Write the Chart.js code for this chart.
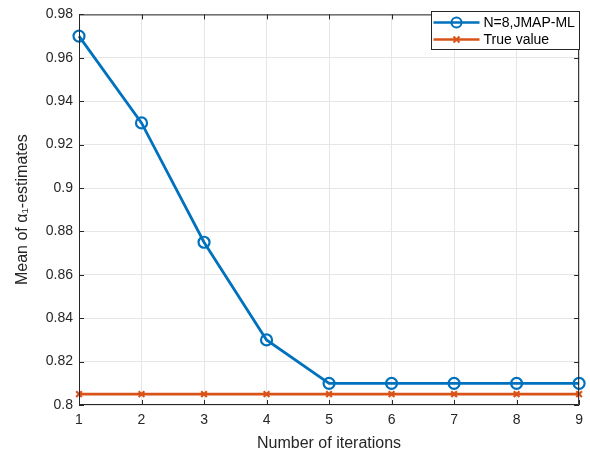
<!DOCTYPE html>
<html>
<head>
<meta charset="utf-8">
<script src="https://cdn.jsdelivr.net/npm/chart.js@4"></script>
<style>
  html, body { margin: 0; padding: 0; background: #fff; }
  #wrap { width: 590px; height: 453px; }
</style>
</head>
<body>
<div id="wrap"><canvas id="chart" width="590" height="453"></canvas></div>
<script>
const iterations = [1, 2, 3, 4, 5, 6, 7, 8, 9];
const jmapMeans = [0.97, 0.93, 0.875, 0.83, 0.81, 0.81, 0.81, 0.81, 0.81];
const trueValue = [0.805, 0.805, 0.805, 0.805, 0.805, 0.805, 0.805, 0.805, 0.805];
const seriesNames = ["N=8,JMAP-ML", "True value"];

const BLUE = "#0072BD";
const ORANGE = "#D95319";
const AXIS = "#262626";
const FONT = "'Liberation Sans', Arial, sans-serif";

// box, inward ticks and legend like matlab
const matlabFrame = {
  id: "matlabFrame",
  afterDraw(chart) {
    const ctx = chart.ctx;
    const a = chart.chartArea;
    const xs = chart.scales.x, ys = chart.scales.y;
    ctx.save();
    ctx.strokeStyle = AXIS;
    ctx.lineWidth = 1;
    ctx.beginPath();
    ctx.rect(a.left + 0.5, a.top + 0.5, a.right - a.left - 1, a.bottom - a.top - 1);
    ctx.stroke();
    const tl = 5;
    ctx.beginPath();
    xs.ticks.forEach((t, i) => {
      const px = Math.round(xs.getPixelForTick(i)) + 0.5;
      ctx.moveTo(px, a.bottom); ctx.lineTo(px, a.bottom - tl);
      ctx.moveTo(px, a.top); ctx.lineTo(px, a.top + tl);
    });
    ys.ticks.forEach(t => {
      const py = Math.round(ys.getPixelForValue(t.value)) + 0.5;
      ctx.moveTo(a.left, py); ctx.lineTo(a.left + tl, py);
      ctx.moveTo(a.right, py); ctx.lineTo(a.right - tl, py);
    });
    ctx.stroke();

    // legend
    const lx = 431.5, ly = 11.5, lw = 148, lh = 38;
    ctx.fillStyle = "#fff";
    ctx.fillRect(lx, ly, lw, lh);
    ctx.strokeStyle = AXIS;
    ctx.strokeRect(lx, ly, lw, lh);
    const rows = [ly + 11, ly + 28];
    chart.data.datasets.forEach((ds, i) => {
      const y = rows[i];
      ctx.strokeStyle = ds.borderColor;
      ctx.lineWidth = 2.5;
      ctx.beginPath();
      ctx.moveTo(lx + 2, y); ctx.lineTo(lx + 48, y);
      ctx.stroke();
      const cx = lx + 25;
      ctx.lineWidth = 2;
      ctx.beginPath();
      if (ds.pointStyle === "circle") {
        ctx.arc(cx, y, 5, 0, Math.PI * 2);
      } else {
        ctx.moveTo(cx - 3, y - 3); ctx.lineTo(cx + 3, y + 3);
        ctx.moveTo(cx + 3, y - 3); ctx.lineTo(cx - 3, y + 3);
      }
      ctx.stroke();
      ctx.fillStyle = "#000";
      ctx.font = "14px " + FONT;
      ctx.textBaseline = "middle";
      ctx.fillText(ds.label, lx + 52, y + 1);
    });
    ctx.restore();
  }
};

new Chart(document.getElementById("chart"), {
  type: "line",
  data: {
    labels: iterations,
    datasets: [
      {
        label: seriesNames[0],
        data: jmapMeans,
        borderColor: BLUE,
        backgroundColor: "transparent",
        borderWidth: 2.8,
        pointStyle: "circle",
        pointRadius: 5.5,
        pointBorderWidth: 2.2,
        pointBackgroundColor: "transparent",
        pointBorderColor: BLUE,
        tension: 0
      },
      {
        label: seriesNames[1],
        data: trueValue,
        borderColor: ORANGE,
        backgroundColor: "transparent",
        borderWidth: 2.8,
        pointStyle: "crossRot",
        pointRadius: 4,
        pointBorderWidth: 2.2,
        pointBorderColor: ORANGE,
        tension: 0
      }
    ]
  },
  options: {
    responsive: false,
    animation: false,
    layout: { padding: { left: 0, right: 10, top: 11, bottom: 0 } },
    plugins: {
      legend: { display: false },
      tooltip: { enabled: false }
    },
    scales: {
      x: {
        type: "category",
        offset: false,
        border: { display: false },
        grid: { color: "#e6e6e6", drawTicks: false },
        ticks: {
          color: AXIS,
          font: { family: FONT, size: 14 },
          padding: 7,
          maxRotation: 0
        },
        title: {
          display: true,
          text: "Number of iterations",
          color: AXIS,
          font: { family: FONT, size: 16 },
          padding: { top: 1, bottom: 0 }
        },
        afterFit: s => { s.height = 48; }
      },
      y: {
        min: 0.8,
        max: 0.98,
        border: { display: false },
        grid: { color: "#e6e6e6", drawTicks: false },
        ticks: {
          stepSize: 0.02,
          color: AXIS,
          font: { family: FONT, size: 14 },
          padding: 6,
          callback: v => Number(v.toFixed(2)).toString()
        },
        title: {
          display: true,
          text: "Mean of α₁-estimates",
          color: AXIS,
          font: { family: FONT, size: 16 },
          padding: { top: 13, bottom: 0 }
        },
        afterFit: s => { s.width = 79; }
      }
    }
  },
  plugins: [matlabFrame]
});
</script>
</body>
</html>
